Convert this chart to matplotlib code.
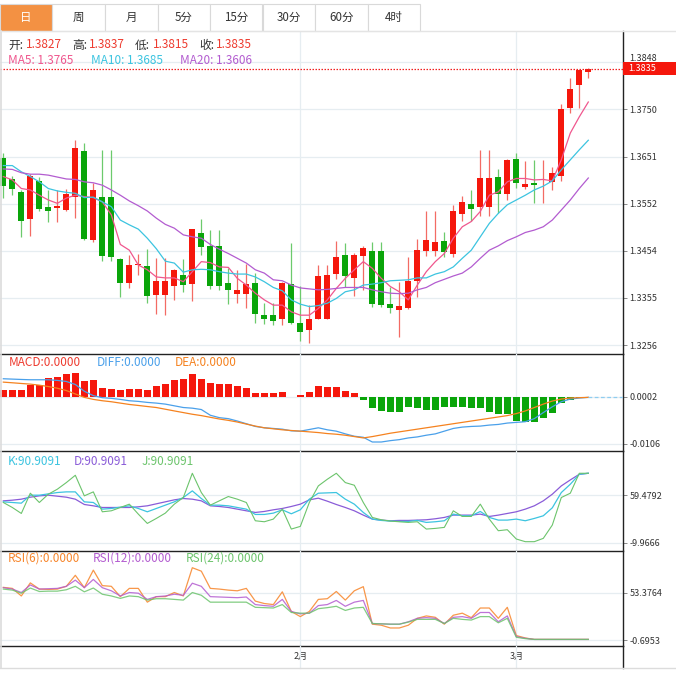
import numpy as np
import matplotlib
matplotlib.use("Agg")
import matplotlib.pyplot as plt
import matplotlib.transforms as mtransforms
from matplotlib.patches import Rectangle
from matplotlib.lines import Line2D

plt.rcParams['font.family'] = ['Noto Sans CJK SC', 'DejaVu Sans']
plt.rcParams['axes.unicode_minus'] = False

# ---- data ----
tabs = ["日", "周", "月", "5分", "15分", "30分", "60分", "4时"]

open_ = [1.3647, 1.3604, 1.3576, 1.3520, 1.3600, 1.3545, 1.3544, 1.3540, 1.3566, 1.3663,
         1.3476, 1.3566, 1.3566, 1.3437, 1.3387, 1.3423, 1.3421, 1.3361, 1.3361, 1.3381,
         1.3403, 1.3384, 1.3490, 1.3464, 1.3464, 1.3386, 1.3364, 1.3364, 1.3386, 1.3319,
         1.3319, 1.3310, 1.3384, 1.3303, 1.3287, 1.3312, 1.3312, 1.3406, 1.3445, 1.3396,
         1.3443, 1.3453, 1.3453, 1.3342, 1.3329, 1.3333, 1.3391, 1.3454, 1.3454, 1.3474,
         1.3448, 1.3531, 1.3551, 1.3546, 1.3546, 1.3609, 1.3573, 1.3646, 1.3588, 1.3596,
         1.3595, 1.3598, 1.3610, 1.3752, 1.3801, 1.3827]
high = [1.3658, 1.3610, 1.3581, 1.3614, 1.3608, 1.3581, 1.3581, 1.3583, 1.3686, 1.3679,
        1.3596, 1.3665, 1.3665, 1.3438, 1.3445, 1.3446, 1.3457, 1.3439, 1.3439, 1.3415,
        1.3436, 1.3500, 1.3520, 1.3497, 1.3497, 1.3418, 1.3414, 1.3426, 1.3407, 1.3345,
        1.3344, 1.3388, 1.3471, 1.3379, 1.3340, 1.3424, 1.3424, 1.3474, 1.3469, 1.3449,
        1.3463, 1.3472, 1.3472, 1.3377, 1.3388, 1.3440, 1.3478, 1.3537, 1.3537, 1.3494,
        1.3550, 1.3568, 1.3581, 1.3665, 1.3665, 1.3625, 1.3645, 1.3658, 1.3642, 1.3644,
        1.3644, 1.3628, 1.3761, 1.3815, 1.3833, 1.3837]
low = [1.3564, 1.3570, 1.3483, 1.3485, 1.3537, 1.3513, 1.3513, 1.3536, 1.3523, 1.3476,
       1.3472, 1.3432, 1.3432, 1.3356, 1.3375, 1.3403, 1.3344, 1.3321, 1.3320, 1.3351,
       1.3368, 1.3349, 1.3445, 1.3374, 1.3372, 1.3342, 1.3345, 1.3333, 1.3303, 1.3300,
       1.3298, 1.3298, 1.3300, 1.3266, 1.3261, 1.3310, 1.3310, 1.3395, 1.3378, 1.3360,
       1.3372, 1.3336, 1.3336, 1.3324, 1.3273, 1.3332, 1.3357, 1.3443, 1.3443, 1.3441,
       1.3441, 1.3515, 1.3515, 1.3527, 1.3527, 1.3532, 1.3560, 1.3585, 1.3582, 1.3554,
       1.3554, 1.3581, 1.3600, 1.3743, 1.3753, 1.3815]
close = [1.3590, 1.3583, 1.3517, 1.3610, 1.3541, 1.3536, 1.3548, 1.3572, 1.3669, 1.3479,
         1.3581, 1.3442, 1.3441, 1.3387, 1.3424, 1.3427, 1.3359, 1.3391, 1.3391, 1.3414,
         1.3382, 1.3499, 1.3462, 1.3379, 1.3379, 1.3372, 1.3372, 1.3384, 1.3322, 1.3310,
         1.3307, 1.3387, 1.3302, 1.3284, 1.3312, 1.3400, 1.3403, 1.3441, 1.3402, 1.3445,
         1.3460, 1.3342, 1.3341, 1.3335, 1.3338, 1.3391, 1.3455, 1.3476, 1.3472, 1.3451,
         1.3536, 1.3556, 1.3541, 1.3605, 1.3607, 1.3573, 1.3644, 1.3596, 1.3594, 1.3592,
         1.3596, 1.3617, 1.3750, 1.3792, 1.3832, 1.3835]

ma5 = [1.3609, 1.3602, 1.3584, 1.3581, 1.3570, 1.3560, 1.3553, 1.3564, 1.3570, 1.3567,
       1.3565, 1.3556, 1.3529, 1.3467, 1.3455, 1.3424, 1.3414, 1.3399, 1.3397, 1.3397,
       1.3389, 1.3410, 1.3431, 1.3429, 1.3420, 1.3419, 1.3396, 1.3382, 1.3365, 1.3351,
       1.3340, 1.3340, 1.3326, 1.3319, 1.3319, 1.3333, 1.3351, 1.3375, 1.3396, 1.3414,
       1.3431, 1.3417, 1.3396, 1.3379, 1.3368, 1.3351, 1.3382, 1.3410, 1.3431, 1.3448,
       1.3480, 1.3504, 1.3515, 1.3536, 1.3570, 1.3577, 1.3598, 1.3605, 1.3605, 1.3602,
       1.3603, 1.3600, 1.3644, 1.3700, 1.3734, 1.3765]
ma10 = [1.3632, 1.3632, 1.3619, 1.3609, 1.3598, 1.3584, 1.3579, 1.3576, 1.3574, 1.3565,
        1.3566, 1.3556, 1.3546, 1.3518, 1.3508, 1.3499, 1.3480, 1.3458, 1.3432, 1.3428,
        1.3409, 1.3414, 1.3415, 1.3414, 1.3410, 1.3407, 1.3405, 1.3405, 1.3399, 1.3389,
        1.3377, 1.3370, 1.3351, 1.3342, 1.3337, 1.3339, 1.3344, 1.3354, 1.3368, 1.3372,
        1.3382, 1.3384, 1.3387, 1.3391, 1.3392, 1.3393, 1.3397, 1.3397, 1.3405, 1.3410,
        1.3420, 1.3438, 1.3455, 1.3483, 1.3511, 1.3532, 1.3550, 1.3560, 1.3570, 1.3581,
        1.3589, 1.3600, 1.3623, 1.3644, 1.3665, 1.3685]
ma20 = [1.3625, 1.3624, 1.3617, 1.3614, 1.3614, 1.3612, 1.3608, 1.3604, 1.3603, 1.3598,
        1.3596, 1.3591, 1.3581, 1.3570, 1.3558, 1.3548, 1.3537, 1.3522, 1.3509, 1.3501,
        1.3487, 1.3483, 1.3480, 1.3467, 1.3457, 1.3448, 1.3438, 1.3428, 1.3414, 1.3407,
        1.3393, 1.3391, 1.3382, 1.3376, 1.3374, 1.3372, 1.3373, 1.3375, 1.3377, 1.3377,
        1.3377, 1.3372, 1.3368, 1.3365, 1.3364, 1.3365, 1.3372, 1.3377, 1.3387, 1.3394,
        1.3401, 1.3407, 1.3420, 1.3438, 1.3455, 1.3464, 1.3475, 1.3483, 1.3492, 1.3497,
        1.3504, 1.3518, 1.3539, 1.3560, 1.3584, 1.3606]

macd_hist = [0.0017, 0.0017, 0.0017, 0.0029, 0.0029, 0.0045, 0.0046, 0.0053, 0.0056, 0.0037,
             0.0039, 0.0022, 0.0020, 0.0017, 0.0020, 0.0020, 0.0017, 0.0026, 0.0031, 0.0039,
             0.0043, 0.0053, 0.0043, 0.0033, 0.0031, 0.0031, 0.0026, 0.0022, 0.0011, 0.0009,
             0.0009, 0.0012, 0.0002, 0.0005, 0.0012, 0.0025, 0.0023, 0.0023, 0.0014, 0.0009,
             -0.0005, -0.0025, -0.0031, -0.0034, -0.0033, -0.0022, -0.0025, -0.0028, -0.0028, -0.0022,
             -0.0022, -0.0023, -0.0025, -0.0025, -0.0033, -0.0039, -0.0039, -0.0053, -0.0056, -0.0056,
             -0.0048, -0.0036, -0.0014, -0.0006, -0.0002, -0.0001]
diff = [0.00426, 0.00418, 0.00410, 0.00403, 0.00403, 0.00403, 0.00388, 0.00364, 0.00295, 0.00140,
        0.00040, -0.00007, -0.00022, -0.00046, -0.00077, -0.00092, -0.00115, -0.00131, -0.00154, -0.00193,
        -0.00232, -0.00247, -0.00278, -0.00409, -0.00464, -0.00487, -0.00541, -0.00603, -0.00665, -0.00696,
        -0.00711, -0.00727, -0.00766, -0.00773, -0.00735, -0.00696, -0.00742, -0.00773, -0.00835, -0.00889,
        -0.00913, -0.01021, -0.01021, -0.00990, -0.00967, -0.00928, -0.00905, -0.00866, -0.00835, -0.00773,
        -0.00711, -0.00680, -0.00665, -0.00657, -0.00634, -0.00619, -0.00588, -0.00572, -0.00557, -0.00487,
        -0.00348, -0.00216, -0.00100, -0.00038, -0.00015, 0.0]
dea = [0.00349, 0.00334, 0.00318, 0.00303, 0.00279, 0.00248, 0.00210, 0.00156, 0.00078, 0.0,
       -0.00046, -0.00077, -0.00100, -0.00131, -0.00162, -0.00185, -0.00209, -0.00232, -0.00271, -0.00310,
       -0.00348, -0.00386, -0.00417, -0.00456, -0.00495, -0.00526, -0.00564, -0.00611, -0.00657, -0.00696,
       -0.00719, -0.00742, -0.00758, -0.00773, -0.00789, -0.00805, -0.00828, -0.00843, -0.00866, -0.00897,
       -0.00928, -0.00897, -0.00859, -0.00820, -0.00789, -0.00758, -0.00727, -0.00696, -0.00665, -0.00634,
       -0.00603, -0.00572, -0.00541, -0.00510, -0.00479, -0.00448, -0.00417, -0.00371, -0.00310, -0.00232,
       -0.00154, -0.00084, -0.00038, -0.00015, -0.00007, 0.0]

k_line = [49.59, 48.63, 47.67, 59.20, 59.20, 61.12, 63.04, 64.00, 64.00, 49.59,
          48.63, 39.02, 39.98, 41.90, 43.83, 39.98, 35.18, 39.98, 44.79, 49.59,
          55.84, 65.44, 54.39, 44.79, 44.79, 43.83, 41.42, 39.02, 31.34, 31.34,
          33.26, 38.06, 32.30, 38.06, 53.43, 62.08, 62.56, 63.04, 53.43, 46.23,
          34.22, 24.61, 22.69, 21.73, 21.25, 21.25, 22.69, 19.81, 20.77, 22.21,
          31.82, 29.41, 29.41, 35.66, 27.01, 23.17, 23.17, 24.61, 22.21, 25.57,
          29.41, 40.94, 63.04, 75.05, 89.46, 90.9091]
d_line = [51.03, 51.99, 53.43, 56.32, 58.24, 59.20, 57.76, 56.32, 53.43, 45.75,
          43.83, 41.42, 41.42, 41.42, 41.42, 42.38, 43.83, 46.71, 49.59, 52.47,
          54.39, 53.43, 51.03, 43.83, 42.87, 41.42, 39.02, 36.62, 34.22, 35.66,
          38.06, 39.98, 42.87, 46.23, 52.47, 54.88, 50.55, 45.75, 41.42, 36.62,
          30.37, 24.61, 23.17, 22.21, 22.69, 22.69, 23.17, 23.65, 25.09, 27.01,
          30.37, 30.37, 30.37, 31.82, 28.45, 30.37, 32.78, 35.18, 39.02, 43.83,
          51.03, 60.64, 72.65, 81.30, 89.46, 90.9091]
j_line = [48.63, 41.42, 32.78, 62.08, 48.63, 60.64, 67.85, 77.45, 88.02, 58.24,
          64.00, 35.18, 36.62, 41.42, 46.23, 31.82, 18.36, 25.57, 33.26, 46.23,
          55.84, 90.91, 63.04, 44.79, 51.03, 57.28, 53.43, 48.63, 22.21, 20.77,
          24.61, 39.02, 10.20, 14.04, 48.63, 72.65, 82.26, 90.91, 77.45, 73.61,
          48.63, 27.01, 23.65, 21.73, 20.77, 19.81, 20.77, 10.20, 11.16, 12.60,
          36.62, 28.45, 28.45, 46.23, 24.61, 7.80, 9.24, -4.21, -8.06, -8.06,
          -3.25, 15.96, 55.84, 62.08, 90.91, 90.9091]

rsi6 = [59.25, 58.08, 49.46, 64.35, 57.29, 56.90, 57.29, 60.43, 72.97, 58.86,
        78.84, 61.21, 60.43, 48.67, 58.08, 58.08, 42.40, 48.67, 48.67, 53.38,
        49.46, 81.59, 77.67, 58.08, 57.29, 56.12, 55.33, 58.08, 43.58, 40.84,
        39.66, 54.16, 31.83, 25.95, 31.83, 45.54, 46.32, 54.55, 44.76, 55.33,
        60.04, 17.33, 16.15, 13.02, 13.02, 16.15, 23.99, 26.73, 25.16, 17.33,
        27.52, 29.87, 24.77, 35.74, 35.74, 23.99, 36.53, 4.40, 1.65, 0.0,
        0.0, 0.0, 0.0, 0.0, 0.0, 0.0]
rsi12 = [58.86, 57.29, 53.38, 62.00, 57.29, 57.69, 58.08, 60.43, 67.48, 58.86,
         68.26, 58.86, 55.33, 49.46, 53.38, 52.59, 45.54, 48.67, 49.46, 51.42,
         50.24, 63.95, 60.43, 48.67, 48.28, 47.89, 47.50, 48.28, 39.66, 38.49,
         37.70, 45.54, 31.83, 29.08, 29.87, 38.49, 39.66, 44.36, 37.70, 42.40,
         44.36, 18.11, 17.72, 17.33, 17.33, 20.07, 23.99, 24.77, 23.99, 18.11,
         25.16, 25.95, 23.99, 30.65, 30.65, 20.07, 26.73, 3.22, 1.26, 0.0,
         0.0, 0.0, 0.0, 0.0, 0.0, 0.0]
rsi24 = [57.29, 56.12, 52.59, 58.47, 54.55, 54.94, 54.94, 56.51, 60.43, 54.16,
         58.47, 51.42, 49.46, 46.71, 49.46, 48.67, 44.76, 46.32, 46.32, 45.54,
         44.76, 53.38, 50.24, 42.40, 42.40, 42.40, 42.40, 42.40, 36.53, 36.14,
         35.74, 39.66, 30.65, 29.87, 29.87, 34.96, 36.14, 37.70, 33.00, 35.74,
         36.53, 18.11, 17.72, 17.33, 17.33, 19.68, 22.81, 22.81, 22.81, 18.11,
         23.99, 22.81, 22.03, 25.95, 25.95, 18.90, 23.99, 2.44, 0.87, 0.0,
         0.0, 0.0, 0.0, 0.0, 0.0, 0.0]

month_pos = [33, 57]
month_labels = ["2月", "3月"]

price_ticks = [1.3256, 1.3355, 1.3454, 1.3552, 1.3651, 1.3750, 1.3848]
macd_ticks = [0.0002, -0.0106]
kdj_ticks = [59.4792, -9.9666]
rsi_ticks = [53.3764, -0.6953]

# ---- colors ----
RED = '#f5170c'
GREEN = '#0aa50a'
RED_W = '#f36b64'
GREEN_W = '#6cca6c'
C_MA5 = '#f0578e'
C_MA10 = '#3cc4e0'
C_MA20 = '#b35cd0'
C_DIFF = '#4aa0ea'
C_DEA = '#f5821f'
C_K = '#3cc4e0'
C_D = '#8a5cd8'
C_J = '#6cc46c'
C_NUM = '#ee3b2f'
GRID = '#e6edf1'
TXT = '#333333'

W, H = 676, 676
fig = plt.figure(figsize=(W / 100, H / 100), dpi=100)


def rect(x0, y0, x1, y1):
    return [x0 / W, 1 - y1 / H, (x1 - x0) / W, (y1 - y0) / H]


def ftext(px, py, s, color, size=8.5, **kw):
    return fig.text(px / W, 1 - py / H, s, fontsize=size, color=color, va='center', **kw)


AX_R = 623
ax_main = fig.add_axes(rect(0, 31, AX_R, 353.5))
ax_macd = fig.add_axes(rect(0, 353.5, AX_R, 451))
ax_kdj = fig.add_axes(rect(0, 451, AX_R, 550.5))
ax_rsi = fig.add_axes(rect(0, 550.5, AX_R, 646))

n = len(close)
x = np.arange(n)
xlim = (-0.37, (AX_R - 3.3) / 9.0)

for ax in (ax_main, ax_macd, ax_kdj, ax_rsi):
    ax.set_xlim(*xlim)
    ax.set_facecolor('none')
    for s in ('top', 'left'):
        ax.spines[s].set_visible(False)
    ax.spines['right'].set_color('#222222')
    ax.spines['right'].set_linewidth(1.0)
    ax.spines['bottom'].set_color('#222222')
    ax.spines['bottom'].set_linewidth(1.0)
    ax.yaxis.tick_right()
    ax.tick_params(axis='y', length=3, width=0.6, color='#777777', pad=1.5,
                   labelsize=6.5, labelcolor=TXT)
    ax.tick_params(axis='x', length=0, labelbottom=False)
    ax.set_xticks(month_pos)
    ax.grid(True, color=GRID, linewidth=0.9)
    ax.set_axisbelow(True)

# ---- main candles ----
o = np.array(open_)
c = np.array(close)
hi = np.array(high)
lo = np.array(low)
up = c >= o
body_c = np.where(up, RED, GREEN)
wick_c = np.where(up, RED_W, GREEN_W)
ax_main.vlines(x, lo, hi, colors=wick_c, linewidth=0.9, zorder=2)
ax_main.bar(x, np.maximum(np.abs(c - o), 0.00012), bottom=np.minimum(o, c),
            width=0.66, color=body_c, linewidth=0, zorder=3)
ax_main.plot(x, ma5, color=C_MA5, lw=0.9, zorder=4)
ax_main.plot(x, ma10, color=C_MA10, lw=0.9, zorder=4)
ax_main.plot(x, ma20, color=C_MA20, lw=0.9, zorder=4)
ax_main.set_ylim(1.32388, 1.39136)
ax_main.set_yticks(price_ticks)
ax_main.set_yticklabels([f"{v:.4f}" for v in price_ticks])
# top label sits just above the price tag
top_lbl = ax_main.get_yticklabels()[-1]
top_lbl.set_transform(top_lbl.get_transform() +
                      mtransforms.ScaledTranslation(0, 3.5 / 72, fig.dpi_scale_trans))
ax_main.axhline(close[-1], color='#f02020', lw=0.9, ls=(0, (1.2, 1.2)), zorder=5)

# price tag
trans = mtransforms.blended_transform_factory(ax_main.transAxes, ax_main.transData)
tag_h = 13 * (1.39136 - 1.32388) / 322.5
ax_main.add_patch(Rectangle((1.0, close[-1] - tag_h / 2), (W - AX_R) / AX_R, tag_h,
                            transform=trans, facecolor='#f5170c', edgecolor='none',
                            clip_on=False, zorder=10))
ax_main.text(1.0 + 5 / AX_R, close[-1], f"{close[-1]:.4f}", transform=trans,
             color='white', fontsize=6.5, va='center', ha='left', zorder=11)

# legends of main
ftext(8, 45, "开:", TXT)
ftext(26, 45, f"{open_[-1]:.4f}", C_NUM)
ftext(72, 45, "高:", TXT)
ftext(89, 45, f"{high[-1]:.4f}", C_NUM)
ftext(135, 45, "低:", TXT)
ftext(152.5, 45, f"{low[-1]:.4f}", C_NUM)
ftext(199, 45, "收:", TXT)
ftext(216, 45, f"{close[-1]:.4f}", C_NUM)
ftext(8, 60, f"MA5: {ma5[-1]:.4f}", C_MA5)
ftext(91, 60, f"MA10: {ma10[-1]:.4f}", C_MA10)
ftext(180, 60, f"MA20: {ma20[-1]:.4f}", C_MA20)

# ---- MACD ----
hist = np.array(macd_hist)
ax_macd.bar(x, hist, width=0.82, color=np.where(hist >= 0, RED, GREEN), linewidth=0, zorder=3)
ax_macd.plot(x, diff, color=C_DIFF, lw=0.9, zorder=4)
ax_macd.plot(x, dea, color=C_DEA, lw=0.9, zorder=4)
ax_macd.hlines(macd_ticks[0], n - 1, xlim[1], colors='#8fcdf0', lw=0.9, linestyles=(0, (3, 2)), zorder=4)
ax_macd.set_ylim(-0.01227, 0.01004)
ax_macd.set_yticks(macd_ticks)
ax_macd.set_yticklabels([f"{v:.4f}" for v in macd_ticks])
ftext(9, 363, "MACD:0.0000", C_NUM)
ftext(97, 363, "DIFF:0.0000", C_DIFF)
ftext(175, 363, "DEA:0.0000", C_DEA)

# ---- KDJ ----
ax_kdj.plot(x, d_line, color=C_D, lw=0.9, zorder=4)
ax_kdj.plot(x, k_line, color=C_K, lw=0.9, zorder=4)
ax_kdj.plot(x, j_line, color=C_J, lw=0.8, zorder=4)
ax_kdj.set_ylim(-20.82, 123.14)
ax_kdj.set_yticks(kdj_ticks)
ax_kdj.set_yticklabels([f"{v:.4f}" for v in kdj_ticks])
ftext(8, 461.5, f"K:{k_line[-1]:.4f}", C_K)
ftext(74, 461.5, f"D:{d_line[-1]:.4f}", C_D)
ftext(142, 461.5, f"J:{j_line[-1]:.4f}", C_J)

# ---- RSI ----
ax_rsi.plot(x, rsi6, color='#f7852a', lw=0.9, alpha=0.85, zorder=4)
ax_rsi.plot(x, rsi12, color='#b35cd0', lw=0.9, alpha=0.85, zorder=4)
ax_rsi.plot(x, rsi24, color='#6cc46c', lw=0.9, alpha=0.85, zorder=4)
ax_rsi.set_ylim(-7.5, 101.2)
ax_rsi.set_yticks(rsi_ticks)
ax_rsi.set_yticklabels([f"{v:.4f}" for v in rsi_ticks])
ax_rsi.tick_params(axis='x', labelbottom=True, labelsize=6.5, labelcolor=TXT, pad=4)
ax_rsi.set_xticklabels(month_labels)
ftext(8, 558, "RSI(6):0.0000", '#f7852a')
ftext(93, 558, "RSI(12):0.0000", '#b35cd0')
ftext(186, 558, "RSI(24):0.0000", '#6cc46c')

# vertical month grid below the RSI panel
for m in month_pos:
    xf = (3.3 + 9 * m) / W
    fig.add_artist(Line2D([xf, xf], [1 - 668 / H, 1 - 646 / H], color=GRID, lw=0.9))

# ---- frame ----
fig.add_artist(Line2D([AX_R / W, AX_R / W], [1 - 668 / H, 1 - 646 / H], color='#222222', lw=1.0))
fig.add_artist(Line2D([0, 1], [1 - 668 / H, 1 - 668 / H], color='#dcdcdc', lw=1.0))
fig.add_artist(Line2D([0.6 / W, 0.6 / W], [1 - 668 / H, 1 - 31 / H], color='#dcdcdc', lw=1.2))
fig.add_artist(Line2D([0, 1], [1 - 31 / H, 1 - 31 / H], color='#e4e4e4', lw=1.0))

# ---- tab bar ----
tab_w = 52.5
for i, t in enumerate(tabs):
    x0 = i * tab_w
    active = i == 0
    fig.add_artist(Rectangle((x0 / W, 1 - 31 / H), tab_w / W, 27 / H,
                             facecolor='#f39143' if active else 'white',
                             edgecolor='#d9d9d9', lw=0.8))
    fig.text((x0 + tab_w / 2) / W, 1 - 17.5 / H, t, fontsize=8.3,
             color='white' if active else TXT, ha='center', va='center')

fig.savefig("out.png", dpi=100)
